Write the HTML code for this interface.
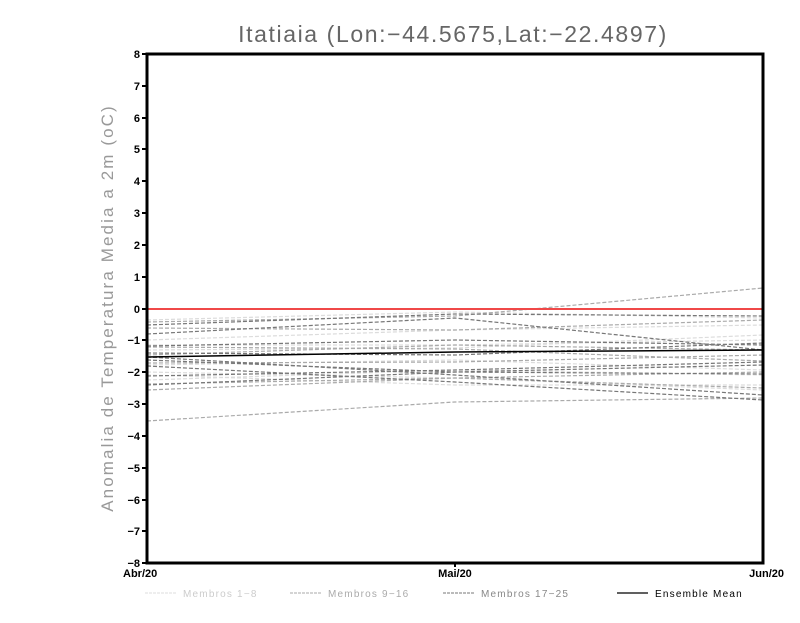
<!DOCTYPE html>
<html><head><meta charset="utf-8"><style>
html,body{margin:0;padding:0;background:#fff;}
svg text{font-family:"Liberation Sans",sans-serif;}
</style></head><body>
<svg width="800" height="618" viewBox="0 0 800 618" xmlns="http://www.w3.org/2000/svg">
<text x="453" y="42" text-anchor="middle" font-size="23" fill="#666" font-weight="300" letter-spacing="1.6">Itatiaia (Lon:−44.5675,Lat:−22.4897)</text>
<text transform="translate(113,308) rotate(-90)" text-anchor="middle" font-size="17" fill="#999" letter-spacing="2.1">Anomalia de Temperatura Media a 2m (oC)</text>
<g stroke-dasharray="4,2" fill="none" stroke-width="1.2">
<g stroke="#dcdcdc">
<polyline points="147,320 455,312 763,318"/><polyline points="147,340 455,330 763,325"/><polyline points="147,345 455,345 763,340"/><polyline points="147,365 455,360 763,370"/><polyline points="147,380 455,370 763,375"/><polyline points="147,375 455,385 763,385"/><polyline points="147,350 455,348 763,335"/><polyline points="147,372 455,378 763,390"/>
</g>
<g stroke="#aaa">
<polyline points="147,322 455,316 763,288"/><polyline points="147,328 455,330 763,320"/><polyline points="147,355 455,345 763,350"/><polyline points="147,363 455,362 763,355"/><polyline points="147,390 455,378 763,388"/><polyline points="147,421 455,402 763,398"/><polyline points="147,347 455,349 763,361"/><polyline points="147,384 455,378 763,372"/>
</g>
<g stroke="#777">
<polyline points="147,325 455,314 763,316"/><polyline points="147,334 455,318 763,350"/><polyline points="147,346 455,340 763,345"/><polyline points="147,353 455,355 763,343"/><polyline points="147,360 455,372 763,365"/><polyline points="147,376 455,370 763,362"/><polyline points="147,385 455,372 763,374"/><polyline points="147,357 455,375 763,395"/><polyline points="147,366 455,382 763,400"/>
</g>
</g>
<polyline points="147,357 455,352 763,350" stroke="#000" stroke-width="1.5" fill="none"/>
<line x1="147" y1="309" x2="763" y2="309" stroke="#f04848" stroke-width="2"/>
<rect x="147" y="54" width="616" height="509" fill="none" stroke="#000" stroke-width="3"/>
<g stroke="#000" stroke-width="2">
<line x1="142" y1="54" x2="147" y2="54"/><line x1="142" y1="86" x2="147" y2="86"/><line x1="142" y1="118" x2="147" y2="118"/><line x1="142" y1="149" x2="147" y2="149"/><line x1="142" y1="181" x2="147" y2="181"/><line x1="142" y1="213" x2="147" y2="213"/><line x1="142" y1="245" x2="147" y2="245"/><line x1="142" y1="277" x2="147" y2="277"/><line x1="142" y1="309" x2="147" y2="309"/><line x1="142" y1="340" x2="147" y2="340"/><line x1="142" y1="372" x2="147" y2="372"/><line x1="142" y1="404" x2="147" y2="404"/><line x1="142" y1="436" x2="147" y2="436"/><line x1="142" y1="468" x2="147" y2="468"/><line x1="142" y1="500" x2="147" y2="500"/><line x1="142" y1="531" x2="147" y2="531"/><line x1="142" y1="563" x2="147" y2="563"/>
<line x1="455" y1="563" x2="455" y2="567"/>
</g>
<g font-size="11" font-weight="bold" text-anchor="end" fill="#000">
<text x="140" y="58">8</text><text x="140" y="90">7</text><text x="140" y="122">6</text><text x="140" y="153">5</text><text x="140" y="185">4</text><text x="140" y="217">3</text><text x="140" y="249">2</text><text x="140" y="281">1</text><text x="140" y="313">0</text><text x="140" y="344">−1</text><text x="140" y="376">−2</text><text x="140" y="408">−3</text><text x="140" y="440">−4</text><text x="140" y="472">−5</text><text x="140" y="504">−6</text><text x="140" y="535">−7</text><text x="140" y="567">−8</text>
</g>
<g font-size="11" font-weight="bold" fill="#000">
<text x="123" y="577">Abr/20</text><text x="455" y="577" text-anchor="middle">Mai/20</text><text x="784" y="577" text-anchor="end">Jun/20</text>
</g>
<g font-size="10" letter-spacing="1.2">
<line x1="145" y1="593" x2="176" y2="593" stroke="#ddd" stroke-dasharray="3,1"/>
<text x="183" y="597" fill="#ccc">Membros 1−8</text>
<line x1="290" y1="593" x2="321" y2="593" stroke="#aaa" stroke-dasharray="3,1"/>
<text x="328" y="597" fill="#aaa">Membros 9−16</text>
<line x1="443" y1="593" x2="474" y2="593" stroke="#777" stroke-dasharray="3,1"/>
<text x="481" y="597" fill="#888">Membros 17−25</text>
<line x1="617" y1="593" x2="648" y2="593" stroke="#000" stroke-width="1.2"/>
<text x="655" y="597" fill="#000">Ensemble Mean</text>
</g>
</svg>
</body></html>
